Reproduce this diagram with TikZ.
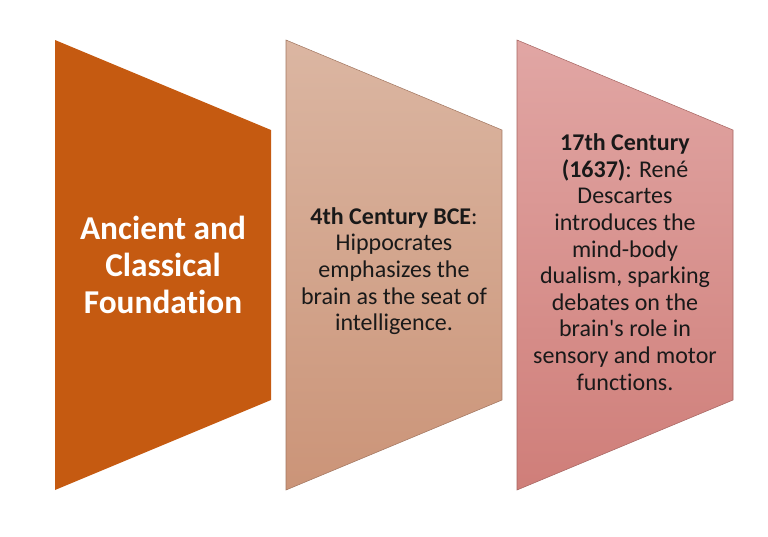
\documentclass[tikz,border=0pt]{standalone}
\usepackage{fontspec}
\setmainfont{Carlito}[Ligatures={TeX,NoCommon}]
\definecolor{ancientfill}{HTML}{C55A11}
\definecolor{hippotop}{HTML}{DBB6A2}
\definecolor{hippobot}{HTML}{CB9478}
\definecolor{descatop}{HTML}{E1A6A4}
\definecolor{descabot}{HTML}{CF7E79}
\tikzset{era/.style={align=center, text=black!90, font=\fontsize{18}{20}\selectfont},
         headline/.style={align=center, text=white, font=\fontsize{25}{27.5}\selectfont\bfseries}}

\begin{document}
\begin{tikzpicture}[x=0.75pt,y=-0.75pt]
        \useasboundingbox (0,0) rectangle (768,536);

        % the three panels
        \fill[ancientfill] (55,40) -- (271,130) -- (271,400) -- (55,490) -- cycle;
        \shade[top color=hippotop, bottom color=hippobot, draw=hippobot!80!black, line width=0.4pt]
            (286,40) -- (502,130) -- (502,400) -- (286,490) -- cycle;
        \shade[top color=descatop, bottom color=descabot, draw=descabot!80!black, line width=0.4pt]
            (517,40) -- (733,130) -- (733,400) -- (517,490) -- cycle;

        \node[headline](ancient)at(163,265){Ancient and\\Classical\\Foundation};
        \node[era](hippo)at(394,271){\textbf{4th Century BCE}:\\Hippocrates\\emphasizes the\\brain as the seat of\\intelligence.};
        \node[era](desca)at(625,262){\textbf{17th Century}\\\textbf{(1637)}: René\\Descartes\\introduces the\\mind-body\\dualism, sparking\\debates on the\\brain\textquotesingle s role in\\sensory and motor\\functions.};
    \end{tikzpicture}
\end{document}
